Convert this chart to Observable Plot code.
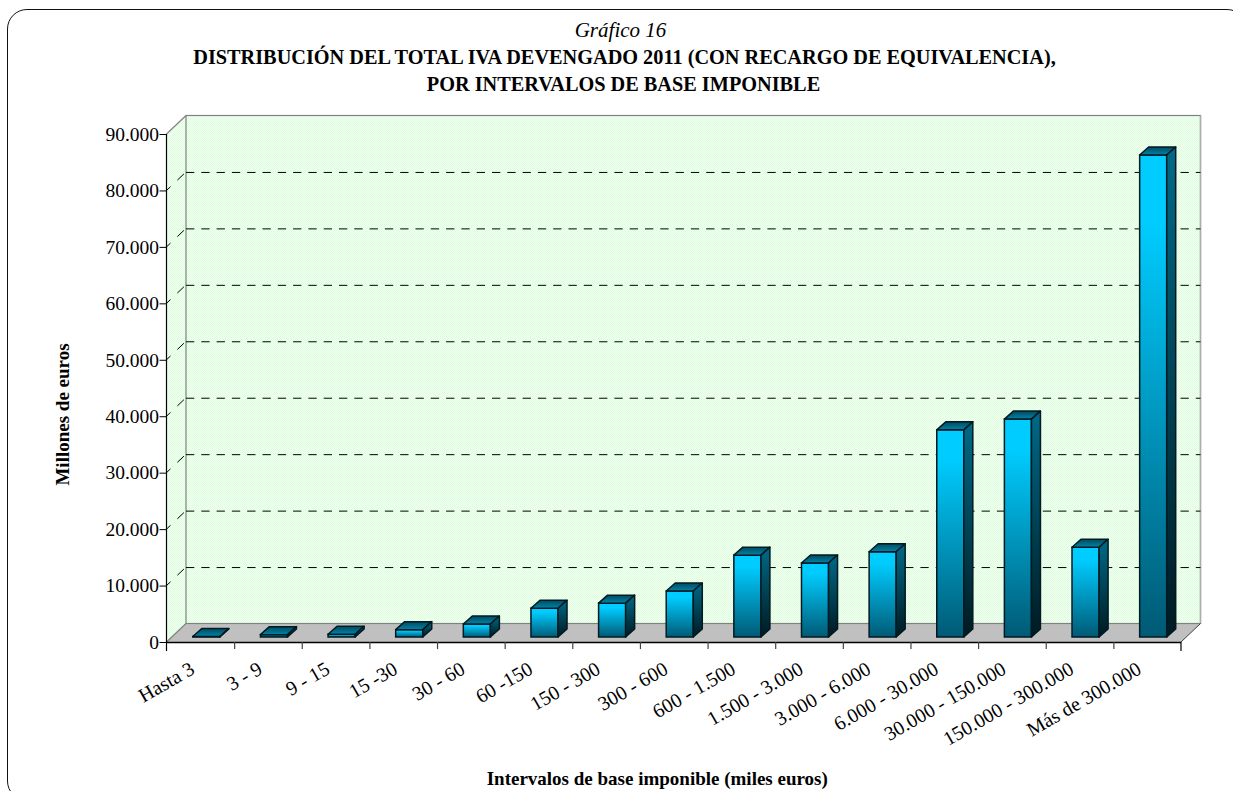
<!DOCTYPE html>
<html lang="es">
<head>
<meta charset="utf-8">
<script src="https://cdn.jsdelivr.net/npm/d3@7"></script>
<script src="https://cdn.jsdelivr.net/npm/@observablehq/plot@0.6"></script>
<style>
  html, body { margin: 0; padding: 0; width: 1233px; height: 791px; overflow: hidden; background: #fff; }
  #border { position: absolute; left: 7px; top: 9px; width: 1240px; height: 792px; border: 1.5px solid #111; border-radius: 20px; box-sizing: border-box; pointer-events: none; }
  #head { position: absolute; left: 0; top: 0; width: 1233px; height: 100px; font-family: "Liberation Serif", serif; color: #000; text-align: center; }
  #head div { position: absolute; width: 100%; line-height: 24px; }
  #chart { position: absolute; left: 0; top: 100px; }
</style>
</head>
<body>
<div id="border"></div>
<div id="head">
  <div id="kicker" style="top:18px;left:4px;font-size:21px;font-style:italic;">Gráfico 16</div>
  <div id="t1" style="top:45px;left:8px;font-size:20.3px;font-weight:bold;">DISTRIBUCIÓN DEL TOTAL IVA DEVENGADO 2011 (CON RECARGO DE EQUIVALENCIA),</div>
  <div id="t2" style="top:72px;left:7px;font-size:20.3px;font-weight:bold;">POR INTERVALOS DE BASE IMPONIBLE</div>
</div>
<div id="chart"></div>
<script>
const categories = ["Hasta 3", "3 - 9", "9 - 15", "15 -30", "30 - 60", "60 -150", "150 - 300", "300 - 600", "600 - 1.500", "1.500 - 3.000", "3.000 - 6.000", "6.000 - 30.000", "30.000 - 150.000", "150.000 - 300.000", "Más de 300.000"];
const values = [90, 420, 480, 1300, 2300, 5100, 6000, 8150, 14500, 13100, 15100, 36700, 38600, 15900, 85400];
const yTicks = [0, 10000, 20000, 30000, 40000, 50000, 60000, 70000, 80000, 90000];
const gridTicks = [10000, 20000, 30000, 40000, 50000, 60000, 70000, 80000];
const yLabel = "Millones de euros";
const xLabel = "Intervalos de base imponible (miles euros)";

const W = 1233, H = 691, ML = 166.5, MR = 52, MT = 34, MB = 149;
const depthX = 19.5, depthY = -18.5;    // wall depth of the 3D box
const barDX = 9, barDY = -8;            // depth of each bar
const step = (W - ML - MR) / categories.length;
const NS = "http://www.w3.org/2000/svg";
const el = (name, attrs, parent) => {
  const n = document.createElementNS(NS, name);
  for (const k in attrs) n.setAttribute(k, attrs[k]);
  if (parent) parent.appendChild(n);
  return n;
};
const stops = (grad, list) => list.forEach(([o, c]) => el("stop", {offset: o, "stop-color": c}, grad));

function defsMark() {
  const d = el("defs", {});
  const front = el("linearGradient", {id: "barFront", x1: 0, y1: 0, x2: 0, y2: 1}, d);
  stops(front, [[0, "#00ccff"], [0.14, "#00ccff"], [1, "#005a75"]]);
  const side = el("linearGradient", {id: "barSide", x1: 0, y1: 0, x2: 0, y2: 1}, d);
  stops(side, [[0, "#006a87"], [1, "#001a22"]]);
  const top = el("linearGradient", {id: "barTop", x1: 0, y1: 0, x2: 0, y2: 1}, d);
  stops(top, [[0, "#004a60"], [1, "#0084a8"]]);
  const p = el("pattern", {id: "wall", width: 2, height: 2, patternUnits: "userSpaceOnUse"}, d);
  el("rect", {width: 2, height: 2, fill: "#f4fff4"}, p);
  el("rect", {width: 1, height: 1, fill: "#dcfedc"}, p);
  el("rect", {x: 1, y: 1, width: 1, height: 1, fill: "#dcfedc"}, p);
  return d;
}

function boxMark(index, {x, y}) {
  const g = el("g", {});
  const left = x(categories[0]) - step * 0.3;
  const right = left + step * categories.length;
  const y0 = y(0), yTop = y(90000);
  const pts = a => a.map(p => p.join(",")).join(" ");
  // floor
  el("polygon", {points: pts([[left, y0], [left + depthX, y0 + depthY], [right + depthX, y0 + depthY], [right, y0]]), fill: "#c0c0c0"}, g);
  // left wall, back wall
  el("polygon", {points: pts([[left, yTop], [left + depthX, yTop + depthY], [left + depthX, y0 + depthY], [left, y0]]), fill: "url(#wall)"}, g);
  el("rect", {x: left + depthX, y: yTop + depthY, width: right - left, height: y0 - yTop, fill: "url(#wall)", stroke: "#808080", "stroke-width": 1.2}, g);
  el("line", {x1: right + depthX, x2: right + depthX, y1: yTop + depthY, y2: y0 + depthY, stroke: "#a8b0a8", "stroke-width": 1.5}, g);
  // box edges
  el("line", {x1: left, y1: yTop, x2: left + depthX, y2: yTop + depthY, stroke: "#808080", "stroke-width": 1.2}, g);
  el("line", {x1: left, y1: y0, x2: left + depthX, y2: y0 + depthY, stroke: "#808080", "stroke-width": 1.2}, g);
  el("line", {x1: right, y1: y0, x2: right + depthX, y2: y0 + depthY, stroke: "#404040", "stroke-width": 1}, g);
  // dashed grid across the left wall
  for (const t of gridTicks) {
    el("line", {x1: left, y1: y(t), x2: left + depthX, y2: y(t) + depthY, stroke: "#000", "stroke-width": 1, "stroke-dasharray": "5.5 9.5 9 100"}, g);
  }
  return g;
}

function axesLines(index, {x, y}) {
  const g = el("g", {});
  const left = x(categories[0]) - step * 0.3;
  const right = left + step * categories.length;
  el("line", {x1: left, x2: left, y1: y(90000), y2: y(0) + 9, stroke: "#000", "stroke-width": 1.2}, g);
  el("line", {x1: right, x2: right, y1: y(0), y2: y(0) + 9, stroke: "#000", "stroke-width": 1.2}, g);
  return g;
}

function bar3d(index, scales, vals, dims, ctx, next) {
  const g = next(index, scales, vals, dims, ctx);
  const rects = [...g.querySelectorAll("rect")];
  for (const r of rects) {
    const a = +r.getAttribute("x"), b = a + +r.getAttribute("width");
    const t = +r.getAttribute("y"), h = +r.getAttribute("height"), u = t + h;
    const style = {stroke: "#001a22", "stroke-width": 1.5, "stroke-linejoin": "round"};
    el("polygon", {points: `${a},${t} ${b},${t} ${b + barDX},${t + barDY} ${a + barDX},${t + barDY}`, fill: "url(#barTop)", ...style}, g);
    el("polygon", {points: `${b},${t} ${b + barDX},${t + barDY} ${b + barDX},${u + barDY} ${b},${u}`, fill: "url(#barSide)", ...style}, g);
  }
  return g;
}

const fmt = d => d3.format(",")(d).replace(/,/g, ".");
const rows = categories.map((c, i) => ({c, v: values[i]}));

const plot = Plot.plot({
  width: W, height: H,
  marginLeft: ML, marginRight: MR, marginTop: MT, marginBottom: MB,
  style: {background: "transparent", fontFamily: "'Liberation Serif', serif", overflow: "visible", color: "#000"},
  x: {type: "band", domain: categories, paddingInner: 0.6, paddingOuter: 0.3, round: false, label: null},
  y: {domain: [0, 90000], label: null},
  marks: [
    defsMark,
    boxMark,
    Plot.ruleY(gridTicks, {dx: depthX, dy: depthY, stroke: "#000", strokeWidth: 1, strokeDasharray: "8.3 7"}),
    Plot.barY(rows, {x: "c", y: "v", dx: 6, dy: -5, fill: "url(#barFront)", stroke: "#001a22", strokeWidth: 1.5, render: bar3d}),
    Plot.ruleY([0], {stroke: "#000", strokeWidth: 1.5}),
    axesLines,
    Plot.ruleX(categories.slice(0, -1), {x: d => d, y1: 0, y2: -1250, dx: step / 2, stroke: "#444", strokeWidth: 1.2}),
    Plot.axisY({ticks: yTicks, tickFormat: fmt, tickSize: 7, tickPadding: 1, label: null, fontSize: 19.5, stroke: "#000"}),
    Plot.axisX({tickSize: 0, tickPadding: 18, tickRotate: -30, label: null, fontSize: 20, lineAnchor: "top", dx: -12}),
    Plot.text([yLabel], {frameAnchor: "left", textAnchor: "middle", rotate: -90, dx: -104, dy: 26, fontWeight: "bold", fontSize: 19}),
    Plot.text([xLabel], {frameAnchor: "bottom", dx: -17, dy: 142, fontWeight: "bold", fontSize: 19})
  ]
});
document.getElementById("chart").appendChild(plot);
</script>
</body>
</html>
